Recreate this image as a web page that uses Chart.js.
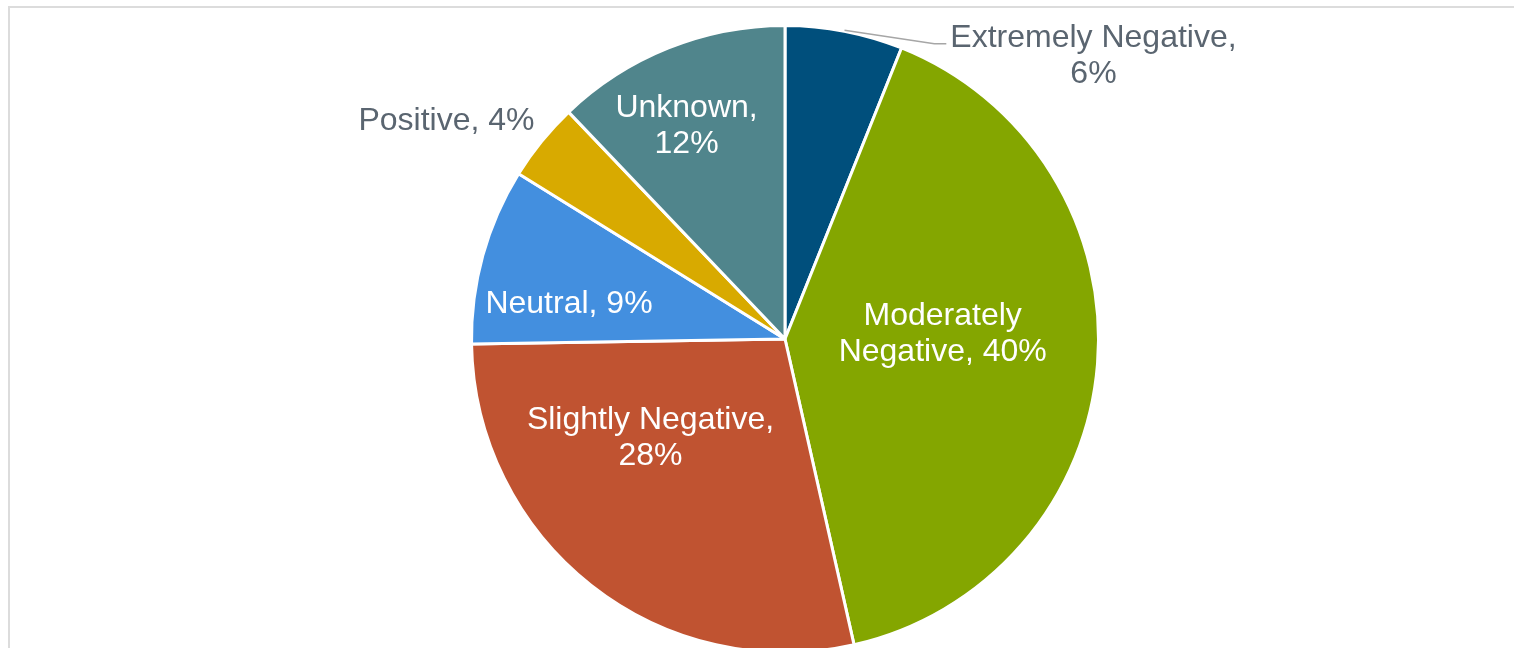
<!DOCTYPE html>
<html>
<head>
<meta charset="utf-8">
<title>Sentiment breakdown</title>
<script src="https://cdn.jsdelivr.net/npm/chart.js@4"></script>
<style>
  html, body { margin: 0; padding: 0; background: #ffffff; overflow: hidden; }
  #wrap { position: relative; width: 1514px; height: 660px; }
</style>
</head>
<body>
<div id="wrap"><canvas id="sentimentChart" width="1514" height="660"></canvas></div>
<script>
// sentiment categories, clockwise from 12 o'clock
const categories = ['Extremely Negative', 'Moderately Negative', 'Slightly Negative', 'Neutral', 'Positive', 'Unknown'];
const shares = [6, 40, 28, 9, 4, 12];
const sliceColors = ['#004f7c', '#84a600', '#c05331', '#438fdf', '#d8aa00', '#50858c'];

// label text lines per slice
const labelLines = [
    ['Extremely Negative,', '6%'],
    ['Moderately', 'Negative, 40%'],
    ['Slightly Negative,', '28%'],
    ['Neutral, 9%'],
    ['Positive, 4%'],
    ['Unknown,', '12%']
];
// label placement as fraction of the radius from the pie centre, and whether it sits outside
const labelLayout = [
    { dx: 0.984, dy: -0.910, outside: true, leader: true },
    { dx: 0.503, dy: -0.021 },
    { dx: -0.429, dy: 0.311 },
    { dx: -0.689, dy: -0.119 },
    { dx: -1.080, dy: -0.702, outside: true },
    { dx: -0.314, dy: -0.684 }
];

const FONT = '32px "Liberation Sans", Arial, sans-serif';
const LINE_H = 36;

// light frame around the chart
const framePlugin = {
    id: 'frame',
    beforeDraw(chart) {
        const ctx = chart.ctx;
        ctx.save();
        ctx.strokeStyle = '#dcdcdc';
        ctx.lineWidth = 2;
        ctx.beginPath();
        ctx.moveTo(9, chart.height);
        ctx.lineTo(9, 7);
        ctx.lineTo(chart.width, 7);
        ctx.stroke();
        ctx.restore();
    }
};

// data labels, placed relative to each arc
const sliceLabels = {
    id: 'sliceLabels',
    afterDatasetsDraw(chart) {
        const ctx = chart.ctx;
        const arcs = chart.getDatasetMeta(0).data;
        ctx.save();
        ctx.font = FONT;
        ctx.textAlign = 'center';
        ctx.textBaseline = 'middle';
        arcs.forEach((arc, i) => {
            const lay = labelLayout[i];
            const r = arc.outerRadius;
            const cx = arc.x + lay.dx * r;
            const cy = arc.y + lay.dy * r + 2;
            const lines = labelLines[i];

            if (lay.leader) {
                const mid = (arc.startAngle + arc.endAngle) / 2;
                const sx = arc.x + Math.cos(mid) * (r + 1);
                const sy = arc.y + Math.sin(mid) * (r + 1);
                const w = ctx.measureText(lines[0]).width;
                const ty = cy - (lines.length - 1) * LINE_H / 2;
                const ex = cx - w / 2 - 4;
                ctx.strokeStyle = '#a6a6a6';
                ctx.lineWidth = 1.5;
                ctx.beginPath();
                ctx.moveTo(sx, sy);
                ctx.lineTo(ex - 12, ty + 6);
                ctx.lineTo(ex, ty + 6);
                ctx.stroke();
            }

            ctx.fillStyle = lay.outside ? '#5a6570' : '#ffffff';
            lines.forEach((t, k) => {
                const y = cy + (k - (lines.length - 1) / 2) * LINE_H;
                ctx.fillText(t, cx, y);
            });
        });
        ctx.restore();
    }
};

const data = {
    labels: categories,
    datasets: [{
        data: shares,
        backgroundColor: sliceColors,
        borderColor: '#ffffff',
        borderWidth: 3
    }]
};

const config = {
    type: 'pie',
    data: data,
    options: {
        responsive: false,
        animation: false,
        layout: {
            padding: { left: 470, right: 414, top: 24, bottom: 6 }
        },
        plugins: {
            legend: { display: false },
            tooltip: { enabled: false }
        }
    },
    plugins: [framePlugin, sliceLabels]
};

const ctx = document.getElementById('sentimentChart').getContext('2d');
new Chart(ctx, config);
</script>
</body>
</html>
